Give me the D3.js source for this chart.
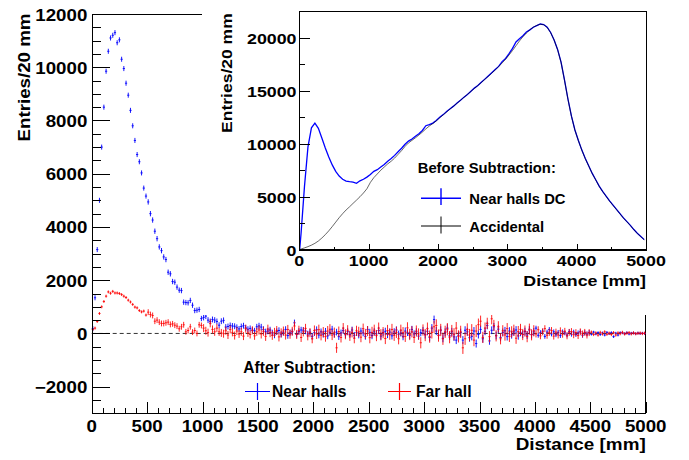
<!DOCTYPE html>
<html><head><meta charset="utf-8">
<script src="https://cdn.jsdelivr.net/npm/d3@7"></script>
<style>
body{margin:0;background:#fff}
svg{display:block}
text{font-family:"Liberation Sans",Arial,Helvetica,sans-serif;font-weight:bold;fill:#000}
</style>
</head><body>
<svg id="c" width="689" height="460"></svg>
<script>
// ---------- DATA ----------
const binWidth = 20; // mm, main histograms
// Near halls after subtraction, 250 bins of 20 mm (0..5000 mm)
const nearAfter = [
 180,1340,3150,5000,7000,8500,9850,10600,11100,11200,
 11300,10920,11030,10300,9950,9400,8950,8380,7800,7250,
 6720,6450,6030,5460,5160,4940,4500,4260,3840,3560,
 3250,3110,2875,2775,2300,2240,1950,1925,1740,1625,
 1610,1175,1160,1150,1240,1060,860,875,900,560,
 600,650,500,450,525,500,450,310,460,490,
 240,260,300,280,270,230,170,260,290,210,160,190,120,100,250,
 280,240,150,60,90,130,20,-60,70,110,-30,40,150,-80,20,
 60,400,-40,80,130,120,90,-20,50,-110,30,140,-60,60,-30,
 80,-90,40,160,-30,50,-120,20,110,-50,70,-40,130,-70,30,
 -60,90,20,-110,150,40,-80,60,-20,110,-100,30,80,-40,50,
 -90,60,130,-30,20,-120,90,40,-70,150,-20,60,-100,30,110,
 -40,80,-150,200,520,90,-60,120,-180,40,200,-90,60,-130,-250,
 -70,30,-250,120,60,-160,-110,90,-380,-40,150,-200,80,300,-280,
 120,250,-80,160,-150,40,100,-120,90,-50,60,130,-90,40,-30,
 70,-60,130,-40,60,200,-70,30,90,-110,50,150,-20,60,-50,
 40,-80,60,20,-60,70,-30,50,-40,20,60,-70,30,-20,40,
 -30,50,-20,30,-40,20,-60,40,-10,30,-120,10,-60,30,20,
 -10,30,-20,10,20,-10,15,-5,10,0
];
// Far hall after subtraction, 250 bins of 20 mm
const farAfter = [
 150,200,450,750,1000,1200,1400,1560,1510,1580,
 1520,1520,1500,1460,1400,1350,1250,1180,1090,990,
 960,860,810,840,690,800,710,675,460,500,
 425,375,375,400,425,340,360,310,275,175,
 250,325,60,110,250,50,110,0,325,300,
 200,100,30,380,150,60,200,60,20,-10,
 100,-60,150,40,-80,90,-20,60,-100,180,20,-40,120,-90,60,
 130,-20,80,-110,160,30,-70,40,110,-130,20,90,-60,150,-30,
 80,280,-40,120,-150,60,190,-90,30,-200,110,-20,140,-70,50,
 -120,90,160,-60,30,-540,70,-150,200,-30,120,-90,40,-180,100,
 60,-140,180,-20,90,-160,40,120,-80,200,-50,30,-190,110,-30,
 150,-70,40,-200,120,30,-110,210,-40,60,-150,90,-20,-350,130,
 -60,180,-120,40,250,300,-80,130,-200,60,160,-140,90,-30,200,
 -110,60,-540,-200,150,-60,120,-250,90,330,460,-150,200,380,-120,
 550,300,-90,250,-200,100,-60,180,-110,60,120,-180,70,150,-40,
 90,-120,160,-50,100,-20,140,-90,60,180,-70,40,110,-100,50,
 -60,100,-30,80,-90,40,70,-50,30,-80,60,-20,40,-60,30,
 50,-40,20,-60,40,-20,60,-30,10,-40,30,-60,20,-10,40,
 -20,10,30,-15,20,-10,5,15,-5,10
];
// typical error-bar half size per 500 mm stretch
const errStep = 500;
const nearErr = [95,100,110,120,125,135,150,145,90,50];
const farErr  = [55,110,150,170,190,210,230,210,130,60];

// Inset: before subtraction, 100 bins of 50 mm
const insetBin = 50;
const nearDC = [
 1500,6000,9700,11500,11950,11450,10550,9600,8750,8000,
 7400,6950,6650,6480,6420,6380,6260,6500,6650,6850,
 7100,7400,7550,7800,8050,8350,8600,8900,9250,9580,
 9950,10250,10450,10700,10950,11250,11700,11800,11950,12200,
 12500,12750,13050,13300,13550,13850,14100,14400,14650,14950,
 15250,15500,15800,16100,16400,16700,17000,17300,17750,18050,
 18500,19000,19600,19900,20200,20550,20750,21000,21150,21300,
 21250,21000,20500,19800,18900,17700,16000,14200,12600,11300,
 10300,9400,8600,7900,7200,6600,6000,5500,5050,4600,
 4200,3800,3400,3000,2650,2300,1900,1550,1250,950
];
const accidental = [
 60,170,290,430,600,820,1100,1420,1780,2180,
 2600,3020,3400,3750,4050,4370,4680,5000,5350,5750,
 6350,6800,7150,7500,7800,8100,8350,8650,9000,9350,
 9750,10080,10320,10560,10820,11100,11400,11670,11900,12150,
 12450,12720,13000,13280,13550,13820,14100,14380,14660,14940,
 15220,15500,15780,16070,16360,16660,16960,17280,17620,17980,
 18380,18800,19250,19700,20100,20450,20750,21000,21170,21280,
 21230,20980,20480,19780,18880,17680,15980,14180,12580,11280,
 10280,9380,8580,7880,7180,6580,5980,5480,5030,4580,
 4180,3780,3380,2980,2630,2280,1880,1530,1230,930
];

const mainXTicks = [0,500,1000,1500,2000,2500,3000,3500,4000,4500,5000];
const mainYTicks = [-2000,0,2000,4000,6000,8000,10000,12000];
const insetXTicks = [0,1000,2000,3000,4000,5000];
const insetYTicks = [0,5000,10000,15000,20000];
const xTitle = "Distance [mm]";
const yTitle = "Entries/20 mm";
const mainLegendTitle = "After Subtraction:";
const mainLegendLabels = ["Near halls","Far hall"];
const insetLegendTitle = "Before Subtraction:";
const insetLegendLabels = ["Near halls DC","Accidental"];

// ---------- LAYOUT ----------
const svg = d3.select("#c");
const M = {l:91.7, r:645.7, t:14, b:413.3};
const I = {l:299.3, r:646, t:11.3, b:249.7};
const BLUE = "#0000ff", RED = "#ff0000";

const x = d3.scaleLinear().domain([0,5000]).range([M.l, M.r]);
const y = d3.scaleLinear().domain([-3000,12000]).range([M.b, M.t]);
const xi = d3.scaleLinear().domain([0,5000]).range([I.l, I.r]);
const yi = d3.scaleLinear().domain([0,22500]).range([I.b, I.t]);

function txt(g, px, py, s, size, anchor, sx, rot){
  return g.append("text")
    .attr("transform", `translate(${px},${py})${rot?" rotate(-90)":""} scale(${sx},1)`)
    .attr("text-anchor", anchor).style("font-size", size+"px").text(s);
}
function styleAxis(g){
  g.selectAll("path,line").attr("stroke","#000").attr("stroke-width",1).attr("shape-rendering","crispEdges");
  g.selectAll("text").remove();
}

// ---------- MAIN PLOT ----------
const gm = svg.append("g");
gm.append("line").attr("x1",M.l).attr("x2",M.r).attr("y1",M.t).attr("y2",M.t).attr("stroke","#000").attr("shape-rendering","crispEdges");
gm.append("line").attr("x1",M.r).attr("x2",M.r).attr("y1",M.t).attr("y2",M.b).attr("stroke","#000").attr("shape-rendering","crispEdges");

gm.append("line").attr("x1",x(0)).attr("x2",x(5000)).attr("y1",y(0)).attr("y2",y(0))
  .attr("stroke","#333").attr("stroke-width",1).attr("stroke-dasharray","4,3");

function errPath(vals, errs){
  let p = "";
  vals.forEach((v,i)=>{
    const lo=i*binWidth, hi=lo+binWidth, c=lo+binWidth/2;
    const e = errs[Math.min(errs.length-1, Math.floor(lo/errStep))];
    p += `M${x(lo)},${y(v)}H${x(hi)}M${x(c)},${y(v-e)}V${y(v+e)}`;
  });
  return p;
}
gm.append("path").attr("d", errPath(nearAfter, nearErr)).attr("fill","none").attr("stroke",BLUE).attr("stroke-width",1).attr("stroke-opacity",0.9);
gm.append("path").attr("d", errPath(farAfter, farErr)).attr("fill","none").attr("stroke",RED).attr("stroke-width",1).attr("stroke-opacity",0.85);

const yMinor = d3.range(-3000, 12001, 500).filter(v=>v%2000!==0);
const xMinor = d3.range(0, 5001, 100).filter(v=>v%500!==0);
gm.append("g").attr("transform",`translate(${M.l},0)`).call(d3.axisLeft(y).tickValues(yMinor).tickSizeInner(-9).tickSizeOuter(0)).call(styleAxis);
gm.append("g").attr("transform",`translate(${M.l},0)`).call(d3.axisLeft(y).tickValues(mainYTicks).tickSizeInner(-18).tickSizeOuter(0)).call(styleAxis);
gm.append("g").attr("transform",`translate(0,${M.b})`).call(d3.axisBottom(x).tickValues(xMinor).tickSizeInner(-5.5).tickSizeOuter(0)).call(styleAxis);
gm.append("g").attr("transform",`translate(0,${M.b})`).call(d3.axisBottom(x).tickValues(mainXTicks).tickSizeInner(-11).tickSizeOuter(0)).call(styleAxis);

mainYTicks.forEach(v=>txt(gm, 87.3, y(v)+6.5, d3.format("d")(v), 16, "end", 1.17));
mainXTicks.forEach(v=>txt(gm, x(v), 432.3, d3.format("d")(v), 16, "middle", 1.17));
txt(gm, M.r, 450, xTitle, 16, "end", 1.18);
txt(gm, 29.5, 13.5, yTitle, 16, "end", 1.17, true);

txt(gm, 243.3, 373, mainLegendTitle, 15.6, "start", 1);
gm.append("path").attr("d",`M245,391.5H270M257.5,383V400`).attr("stroke",BLUE).attr("stroke-width",1.2).attr("fill","none");
txt(gm, 272, 396.8, mainLegendLabels[0], 15.6, "start", 1);
gm.append("path").attr("d",`M388,391.5H411M399.5,383V400`).attr("stroke",RED).attr("stroke-width",1.2).attr("fill","none");
txt(gm, 416, 396.8, mainLegendLabels[1], 15.6, "start", 1);

// ---------- INSET PAD ----------
const gi = svg.append("g");
gi.append("rect").attr("x",202).attr("y",0).attr("width",487).attr("height",315).attr("fill","#fff");

const dcPts = nearDC.map((v,i)=>[i*insetBin+insetBin/2, v]);
dcPts.unshift([5,0]);
gi.append("path").attr("d", d3.line().x(d=>xi(d[0])).y(d=>yi(d[1])).curve(d3.curveLinear)(dcPts))
  .attr("fill","none").attr("stroke",BLUE).attr("stroke-width",1.3);
const accPts = accidental.map((v,i)=>[i*insetBin+insetBin/2, v]);
accPts.unshift([0,0]);
gi.append("path").attr("d", d3.line().x(d=>xi(d[0])).y(d=>yi(d[1])).curve(d3.curveLinear)(accPts))
  .attr("fill","none").attr("stroke","#000").attr("stroke-width",0.7).attr("stroke-opacity",0.85);

gi.append("rect").attr("x",I.l).attr("y",I.t).attr("width",I.r-I.l).attr("height",I.b-I.t)
  .attr("fill","none").attr("stroke","#000").attr("stroke-width",1).attr("shape-rendering","crispEdges");

const yiMinor = d3.range(2500, 22501, 5000);
const xiMinor = d3.range(500, 5000, 1000);
gi.append("g").attr("transform",`translate(${I.l},0)`).call(d3.axisLeft(yi).tickValues(yiMinor).tickSizeInner(-5.7).tickSizeOuter(0)).call(styleAxis);
gi.append("g").attr("transform",`translate(${I.l},0)`).call(d3.axisLeft(yi).tickValues(insetYTicks).tickSizeInner(-10.7).tickSizeOuter(0)).call(styleAxis);
gi.append("g").attr("transform",`translate(0,${I.b})`).call(d3.axisBottom(xi).tickValues(xiMinor).tickSizeInner(-2.5).tickSizeOuter(0)).call(styleAxis);
gi.append("g").attr("transform",`translate(0,${I.b})`).call(d3.axisBottom(xi).tickValues(insetXTicks).tickSizeInner(-5.7).tickSizeOuter(0)).call(styleAxis);

insetYTicks.forEach(v=>txt(gi, 296.5, yi(v)+6.6, d3.format("d")(v), 15.5, "end", 1.15));
insetXTicks.forEach(v=>txt(gi, xi(v), 265.7, d3.format("d")(v), 15.5, "middle", 1.15));
txt(gi, I.r, 285.5, xTitle, 15.5, "end", 1.15);
txt(gi, 231.5, 13.3, yTitle, 15.5, "end", 1.13, true);

txt(gi, 417.7, 173.3, insetLegendTitle, 14.8, "start", 1);
gi.append("path").attr("d","M421,198.3H461M441,188.3V205").attr("stroke",BLUE).attr("stroke-width",1.4).attr("fill","none");
txt(gi, 469.3, 203.8, insetLegendLabels[0], 14.8, "start", 1);
gi.append("path").attr("d","M421,226H461M441,216.5V233.5").attr("stroke","#000").attr("stroke-width",1).attr("fill","none");
txt(gi, 469.3, 231.5, insetLegendLabels[1], 14.8, "start", 1);
</script>
</body></html>
